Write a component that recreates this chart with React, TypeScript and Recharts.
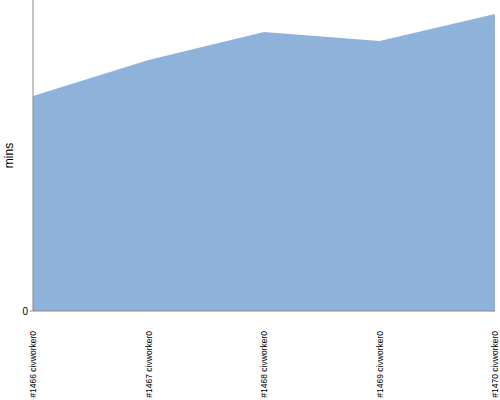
import React from "react";
import { AreaChart, Area, XAxis, YAxis, Label } from "recharts";

const builds = ["#1466 civworker0", "#1467 civworker0", "#1468 civworker0", "#1469 civworker0", "#1470 civworker0"];
const minutes = [69.1, 80.7, 89.7, 86.8, 95.5];

const data = builds.map((b, i) => ({ build: b, mins: minutes[i] }));

function BuildTick(props: any) {
  const { x, y, payload } = props;
  const px = x + 3;
  const py = y + 12;
  return (
    <text
      x={px}
      y={py}
      transform={`rotate(-90, ${px}, ${py})`}
      textAnchor="end"
      fontSize={8.5}
      fontFamily="Liberation Sans, sans-serif"
      fill="#000"
    >
      {payload.value}
    </text>
  );
}

export default function App() {
  return (
    <div style={{ position: "absolute", left: 0, top: 0, background: "#fff" }}>
      <AreaChart width={500} height={400} data={data} margin={{ top: 0, right: 5, left: 0, bottom: 0 }}>
        <XAxis
          dataKey="build"
          height={89}
          interval={0}
          tick={<BuildTick />}
          axisLine={{ stroke: "#888" }}
          tickLine={false}
        />
        <YAxis
          width={33}
          domain={[0, 100]}
          ticks={[0]}
          axisLine={{ stroke: "#888" }}
          tickLine={{ stroke: "#888" }}
          tickSize={3}
          tick={{ fontSize: 10, fill: "#000", fontFamily: "Liberation Sans, sans-serif" }}
        >
          <Label
            value="mins"
            angle={-90}
            position="insideLeft"
            offset={9}
            style={{ fontSize: 12, fill: "#000", fontFamily: "Liberation Sans, sans-serif", textAnchor: "middle" }}
          />
        </YAxis>
        <Area
          type="linear"
          dataKey="mins"
          stroke="none"
          fill="#8fb2da"
          fillOpacity={1}
          isAnimationActive={false}
        />
      </AreaChart>
    </div>
  );
}
